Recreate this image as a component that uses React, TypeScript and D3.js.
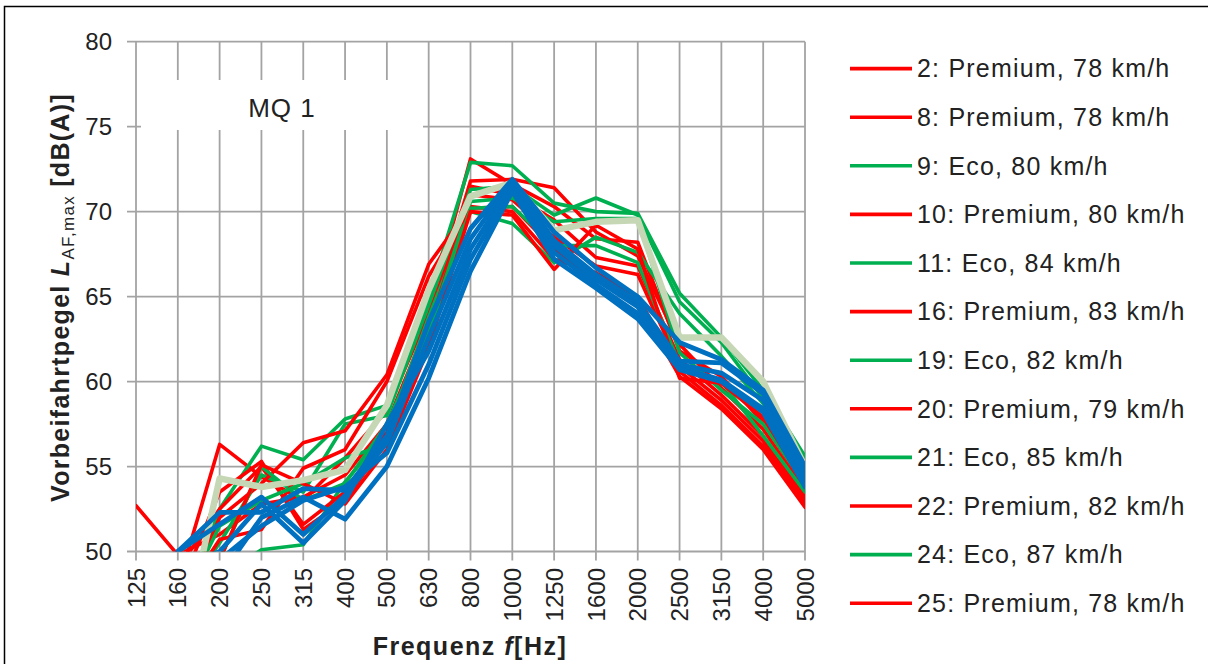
import React from 'react';
import * as d3 from 'd3';

// Terzband-Mittenfrequenzen (Hz)
const frequencies = ['125', '160', '200', '250', '315', '400', '500', '630', '800', '1000', '1250', '1600', '2000', '2500', '3150', '4000', '5000'];
const yTicks = [50, 55, 60, 65, 70, 75, 80];

// Vorbeifahrtpegel je Terzband, dB(A)
const s2 = [52.7, 49.8, 51.0, 52.8, 53.2, 54.5, 57.5, 63.5, 71.8, 71.9, 71.4, 68.8, 67.4, 62.2, 59.6, 57.2, 53.5];
const s8 = [46.0, 48.0, 56.3, 54.4, 53.0, 55.5, 58.3, 64.0, 73.1, 71.6, 70.3, 68.4, 68.2, 61.8, 60.3, 57.6, 53.8];
const s9 = [44.0, 46.0, 52.5, 56.2, 55.4, 57.8, 58.6, 65.0, 72.9, 72.7, 70.5, 70.0, 69.9, 65.2, 62.6, 59.5, 55.6];
const s10 = [45.0, 47.5, 53.5, 55.3, 51.3, 53.0, 56.5, 62.5, 71.5, 71.0, 69.5, 67.3, 66.8, 61.3, 59.2, 56.8, 53.2];
const s11 = [44.0, 45.0, 48.5, 50.1, 50.4, 54.1, 57.0, 63.8, 70.0, 69.3, 67.0, 68.5, 67.6, 64.0, 61.5, 58.7, 55.0];
const s16 = [47.0, 49.0, 52.5, 55.0, 51.6, 53.5, 57.0, 63.0, 71.0, 70.7, 68.5, 66.8, 66.3, 60.9, 58.9, 56.5, 53.0];
const s19 = [45.0, 47.0, 50.5, 54.5, 53.5, 57.5, 58.0, 64.5, 71.3, 71.5, 69.8, 70.8, 69.8, 64.7, 62.3, 59.0, 55.3];
const s20 = [44.0, 46.0, 52.0, 54.0, 56.4, 57.1, 60.4, 66.9, 70.3, 70.0, 67.2, 66.4, 65.0, 60.6, 58.6, 56.2, 52.8];
const s21 = [46.0, 47.0, 49.5, 55.0, 53.0, 54.0, 57.5, 63.0, 70.6, 70.8, 69.4, 69.6, 69.6, 61.7, 59.5, 57.5, 54.0];
const s22 = [45.0, 47.0, 50.7, 51.3, 54.9, 56.0, 60.0, 66.2, 70.2, 70.3, 67.8, 66.0, 64.6, 60.3, 58.4, 56.0, 52.6];
const s24 = [44.0, 46.5, 51.5, 53.0, 54.0, 55.5, 56.3, 62.5, 70.2, 70.3, 68.0, 68.0, 67.0, 61.0, 60.0, 56.8, 53.5];
const s25 = [46.0, 48.0, 49.5, 55.1, 54.0, 52.8, 56.0, 62.0, 70.0, 69.8, 66.6, 69.2, 67.8, 60.2, 59.9, 57.9, 54.0];

// weitere Messungen (ohne Legendeneintrag)
const b1 = [46.0, 50.0, 52.3, 52.3, 53.7, 53.6, 56.8, 63.5, 69.0, 71.9, 68.8, 66.7, 65.0, 62.3, 61.3, 59.5, 55.0];
const b2 = [45.0, 50.0, 51.6, 53.2, 51.0, 53.3, 56.4, 62.6, 68.4, 71.8, 68.3, 66.3, 64.7, 61.2, 61.1, 59.3, 54.6];
const b3 = [44.0, 49.0, 50.0, 52.8, 50.5, 53.0, 57.5, 61.8, 67.8, 71.6, 68.0, 66.0, 64.4, 61.0, 60.5, 58.9, 54.3];
const b4 = [44.0, 48.0, 49.5, 51.5, 53.0, 53.8, 55.8, 61.0, 67.2, 71.4, 67.6, 65.7, 64.0, 60.8, 60.1, 58.4, 54.0];
const b5 = [43.0, 47.0, 48.5, 52.0, 53.2, 51.9, 55.0, 60.2, 66.5, 71.2, 67.2, 65.5, 63.7, 60.7, 60.0, 58.2, 53.8];
const mean = [44.0, 43.3, 54.3, 53.8, 54.2, 54.8, 58.6, 65.4, 70.9, 71.7, 68.9, 69.4, 69.5, 62.6, 62.6, 60.0, 55.0];

const legendLabels = [
  '2: Premium, 78 km/h', '8: Premium, 78 km/h', '9: Eco, 80 km/h', '10: Premium, 80 km/h',
  '11: Eco, 84 km/h', '16: Premium, 83 km/h', '19: Eco, 82 km/h', '20: Premium, 79 km/h',
  '21: Eco, 85 km/h', '22: Premium, 82 km/h', '24: Eco, 87 km/h', '25: Premium, 78 km/h',
];
const legendValues = [s2, s8, s9, s10, s11, s16, s19, s20, s21, s22, s24, s25];
const blueValues = [b1, b2, b3, b4, b5];

const RED = '#FF0000';
const GREEN = '#00B050';
const BLUE = '#0070C0';
const BEIGE = '#C6D7B6';
const GRID = '#A3A3A3';
const FONT = '"Liberation Sans", Arial, sans-serif';

const left = 136;
const right = 805;
const top = 41.7;
const bottom = 551.5;

export default function App() {
  const x = d3.scalePoint<string>().domain(frequencies).range([left, right]);
  const y = d3.scaleLinear().domain([50, 80]).range([bottom, top]);
  const line = d3
    .line<number>()
    .x((_, i) => x(frequencies[i]) as number)
    .y((d) => y(d));

  const colorOf = (label: string) => (label.includes('Eco') ? GREEN : RED);

  return (
    <svg width={1208} height={664} style={{ position: 'absolute', left: 0, top: 0, background: '#fff' }}>
      <defs>
        <clipPath id="plot">
          <rect x={left} y={top} width={right - left} height={bottom - top} />
        </clipPath>
      </defs>
      <rect x={4.5} y={6.5} width={1240} height={700} fill="#fff" stroke="#000" strokeWidth={1.5} />

      {/* gridlines */}
      {yTicks.map((t) => (
        <line key={'h' + t} x1={left - 9} x2={right} y1={y(t)} y2={y(t)} stroke={GRID} strokeWidth={1.8} />
      ))}
      {frequencies.map((f) => (
        <line key={'v' + f} x1={x(f)} x2={x(f)} y1={top} y2={bottom + 9} stroke={GRID} strokeWidth={1.8} />
      ))}

      {/* label box */}
      <rect x={141} y={80} width={282} height={50} fill="#fff" />
      <text x={282} y={117} textAnchor="middle" fontFamily={FONT} fontSize={26} letterSpacing={1} fill="#222">
        MQ 1
      </text>

      {/* series */}
      <g clipPath="url(#plot)" fill="none" strokeLinejoin="round" strokeLinecap="round">
        {legendValues.map((v, i) => (
          <path key={'s' + i} d={line(v) as string} stroke={colorOf(legendLabels[i])} strokeWidth={3.6} />
        ))}
        <path d={line(mean) as string} stroke={BEIGE} strokeWidth={6.5} />
        {blueValues.map((v, i) => (
          <path key={'b' + i} d={line(v) as string} stroke={BLUE} strokeWidth={4.8} />
        ))}
      </g>

      {/* y tick labels */}
      {yTicks.map((t) => (
        <text key={'yl' + t} x={112} y={y(t) + 8.6} textAnchor="end" fontFamily={FONT} fontSize={24} fill="#222">
          {t}
        </text>
      ))}
      {/* x tick labels */}
      {frequencies.map((f) => (
        <text
          key={'xl' + f}
          transform={`translate(${(x(f) as number) + 8.6},568) rotate(-90)`}
          textAnchor="end"
          fontFamily={FONT}
          fontSize={24}
          fill="#222"
        >
          {f}
        </text>
      ))}

      {/* axis titles */}
      <text x={470} y={655} textAnchor="middle" fontFamily={FONT} fontSize={25} fontWeight="bold" letterSpacing={1.5} fill="#222">
        Frequenz <tspan fontStyle="italic">f</tspan>[Hz]
      </text>
      <text
        transform="translate(69,297.5) rotate(-90)"
        textAnchor="middle"
        fontFamily={FONT}
        fontSize={25}
        fontWeight="bold"
        letterSpacing={1.3}
        fill="#222"
      >
        Vorbeifahrtpegel <tspan fontStyle="italic">L</tspan>
        <tspan fontSize={17} fontWeight="normal" dy={5}>AF,max</tspan>
        <tspan dy={-5}> [dB(A)]</tspan>
      </text>

      {/* legend */}
      {legendLabels.map((lab, i) => {
        const ly = 68.6 + i * 48.6;
        return (
          <g key={'lg' + i}>
            <line x1={850} x2={912} y1={ly} y2={ly} stroke={colorOf(lab)} strokeWidth={3.6} />
            <text x={917} y={ly + 8.8} fontFamily={FONT} fontSize={25} letterSpacing={1.2} fill="#222">
              {lab}
            </text>
          </g>
        );
      })}
    </svg>
  );
}
